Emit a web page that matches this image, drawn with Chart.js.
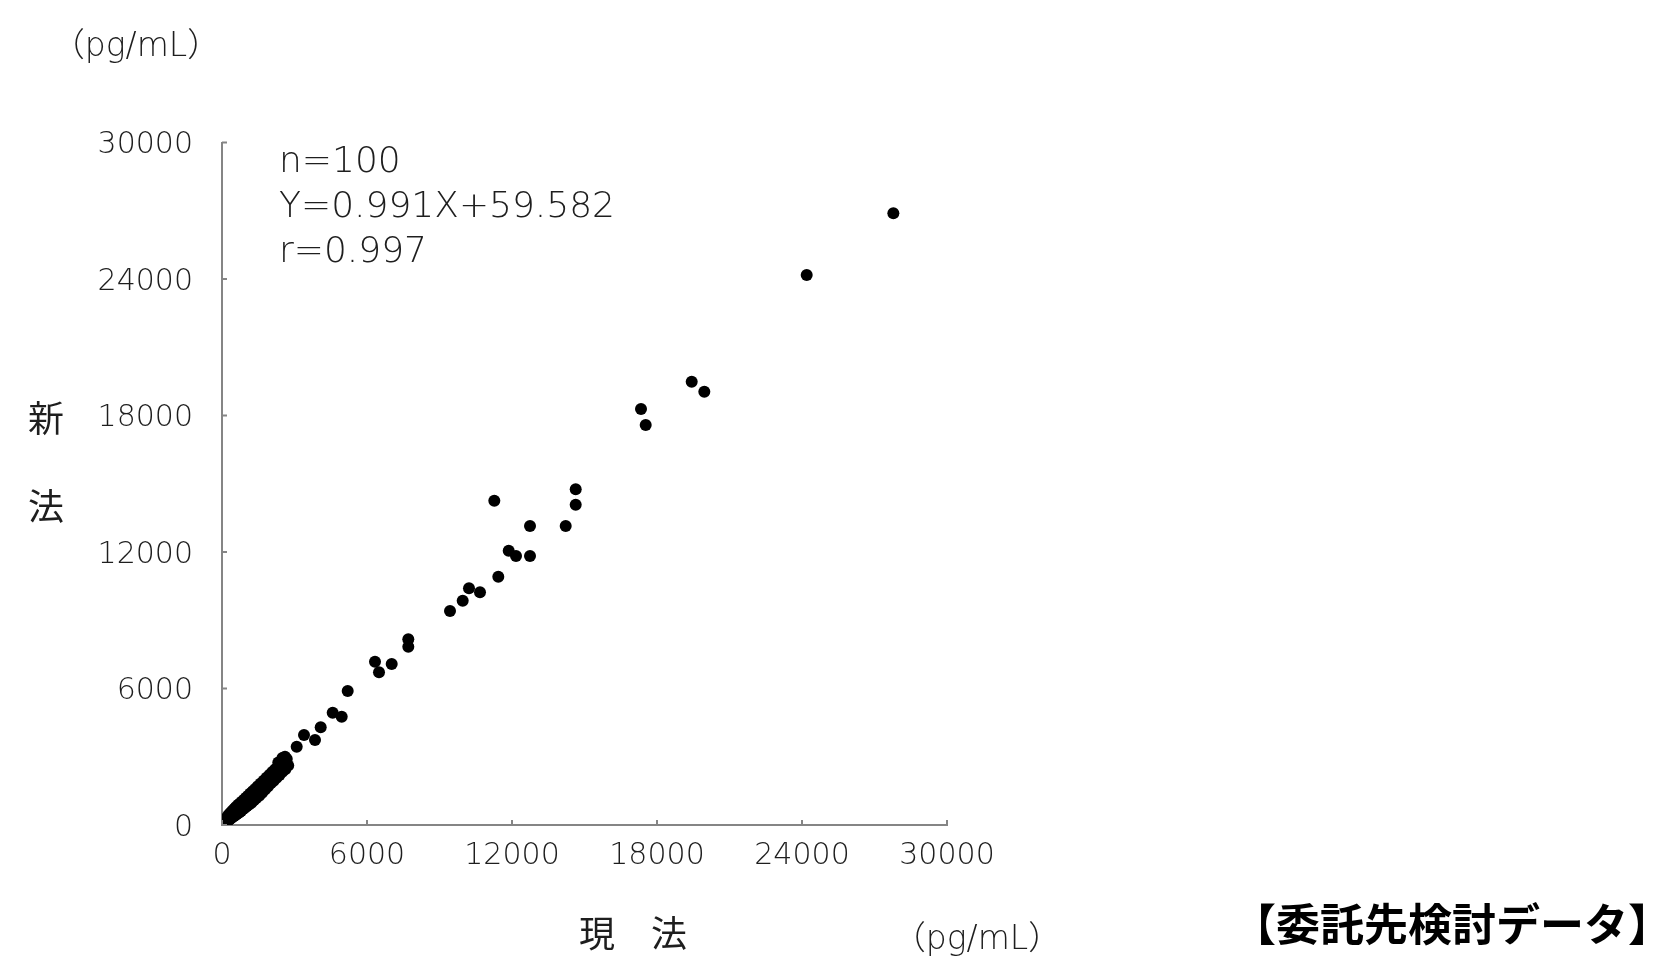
<!DOCTYPE html>
<html lang="ja">
<head>
<meta charset="utf-8">
<script src="https://cdn.jsdelivr.net/npm/chart.js@4/dist/chart.umd.min.js"></script>
<style>
  html, body { margin: 0; padding: 0; background: #ffffff; }
  #wrap { width: 1680px; height: 980px; position: relative; }
</style>
</head>
<body>
<div id="wrap"><canvas id="c" width="1680" height="980"></canvas></div>
<script>
// ---- data ----
const currentMethod = [ // 現法 (x)
  110,135,155,175,190,210,230,250,265,285,300,320,340,360,385,405,425,450,470,495,
  520,545,570,600,630,660,690,720,750,790,830,870,910,950,990,1030,1080,1120,1170,1220,
  1270,1320,1370,1420,1480,1540,1600,1660,1720,1780,1840,1900,1960,2020,2080,2140,2200,2260,2320,2380,
  2440,2500,2560,2620,2680,2500,2740,2330,
  2607,3091,3393,3848,4084,4581,4953,5201,6331,6497,7022,7709,7709,
  9435,9960,10221,10676,11268,11433,11864,12166,12745,12745,14222,14636,14636,
  17338,17533,19436,19958,24195,27780
];
const newMethod = [ // 新法 (y)
  180,90,260,120,310,150,360,200,420,230,470,260,520,290,560,330,620,360,660,400,
  720,430,780,470,840,520,900,560,960,620,1030,700,1110,760,1200,830,1290,900,1380,980,
  1480,1090,1580,1190,1700,1290,1820,1420,1950,1560,2080,1690,2200,1830,2330,1950,2450,2080,2560,2200,
  2700,2340,2800,2450,2900,2950,2620,2750,
  3003,3442,3956,3737,4295,4937,4761,5891,7179,6713,7078,8163,7838,
  9407,9860,10405,10229,14257,10915,12058,11825,13144,11825,13144,14757,14081,
  18287,17584,19488,19048,24178,26890
];
const axisTicks = [0, 6000, 12000, 18000, 24000, 30000];
const tickLabels = ['0', '6000', '12000', '18000', '24000', '30000'];
const statsLines = ['n=100', 'Y=0.991X+59.582', 'r=0.997'];
const xTitle = '現\u3000法';
const yTitleChars = ['新', '法'];
const unitLabel = '（pg/mL）';
const sourceNote = '【委託先検討データ】';

const points = currentMethod.map((v, i) => ({ x: v, y: newMethod[i] }));

const LATIN = "'DejaVu Sans', 'Noto Sans CJK JP', sans-serif";
const CJK = "'Noto Sans CJK JP', sans-serif";
const AXIS_COLOR = '#858585';
const TEXT_COLOR = '#1e1e1e';

const overlay = {
  id: 'overlay',
  afterDraw(chart) {
    const { ctx, scales: { x, y } } = chart;
    ctx.save();
    // inward tick marks
    ctx.strokeStyle = AXIS_COLOR;
    ctx.lineWidth = 2;
    axisTicks.forEach(v => {
      const py = y.getPixelForValue(v);
      ctx.beginPath(); ctx.moveTo(x.left, py); ctx.lineTo(x.left + 5, py); ctx.stroke();
      const px = x.getPixelForValue(v);
      ctx.beginPath(); ctx.moveTo(px, y.bottom); ctx.lineTo(px, y.bottom - 5); ctx.stroke();
    });
    ctx.fillStyle = TEXT_COLOR;
    // statistics block
    ctx.font = "200 36px " + LATIN;
    ctx.textAlign = 'left';
    ctx.textBaseline = 'alphabetic';
    statsLines.forEach((t, i) => ctx.fillText(t, 279, 172 + i * 45));
    // unit labels
    ctx.font = "200 33px " + LATIN;
    ctx.textAlign = 'center';
    ctx.textBaseline = 'middle';
    ctx.fillText(unitLabel, 136, 47);
    ctx.fillText(unitLabel, 977, 940);
    // axis titles
    ctx.font = "36px " + CJK;
    ctx.fillText(xTitle, 633, 933);
    ctx.fillText(yTitleChars[0], 46, 418);
    ctx.fillText(yTitleChars[1], 46, 506);
    // source note
    ctx.font = "bold 44px " + CJK;
    ctx.fillStyle = '#000';
    ctx.fillText(sourceNote, 1452, 924);
    ctx.restore();
  }
};

const tickFont = { family: LATIN, size: 30, weight: 200 };

new Chart(document.getElementById('c'), {
  type: 'scatter',
  data: {
    datasets: [{
      data: points,
      backgroundColor: '#000000',
      borderWidth: 0,
      pointRadius: 6,
      pointHoverRadius: 6
    }]
  },
  options: {
    responsive: false,
    animation: false,
    events: [],
    layout: { padding: { left: 0, top: 142.5, right: 733, bottom: 0 } },
    plugins: { legend: { display: false }, tooltip: { enabled: false } },
    scales: {
      x: {
        type: 'linear',
        min: 0, max: 30000,
        afterBuildTicks: s => { s.ticks = axisTicks.map(v => ({ value: v })); },
        afterFit: s => { s.height = 155; },
        grid: { display: false, drawTicks: false },
        border: { display: true, color: AXIS_COLOR, width: 2 },
        ticks: {
          padding: 13,
          maxRotation: 0,
          autoSkip: false,
          color: TEXT_COLOR,
          font: tickFont,
          callback: (v) => tickLabels[axisTicks.indexOf(v)]
        }
      },
      y: {
        type: 'linear',
        min: 0, max: 30000,
        afterBuildTicks: s => { s.ticks = axisTicks.map(v => ({ value: v })); },
        afterFit: s => { s.width = 222; },
        grid: { display: false, drawTicks: false },
        border: { display: true, color: AXIS_COLOR, width: 2 },
        ticks: {
          padding: 29,
          labelOffset: 3,
          autoSkip: false,
          color: TEXT_COLOR,
          font: tickFont,
          callback: (v) => tickLabels[axisTicks.indexOf(v)]
        }
      }
    }
  },
  plugins: [overlay]
});
</script>
</body>
</html>
